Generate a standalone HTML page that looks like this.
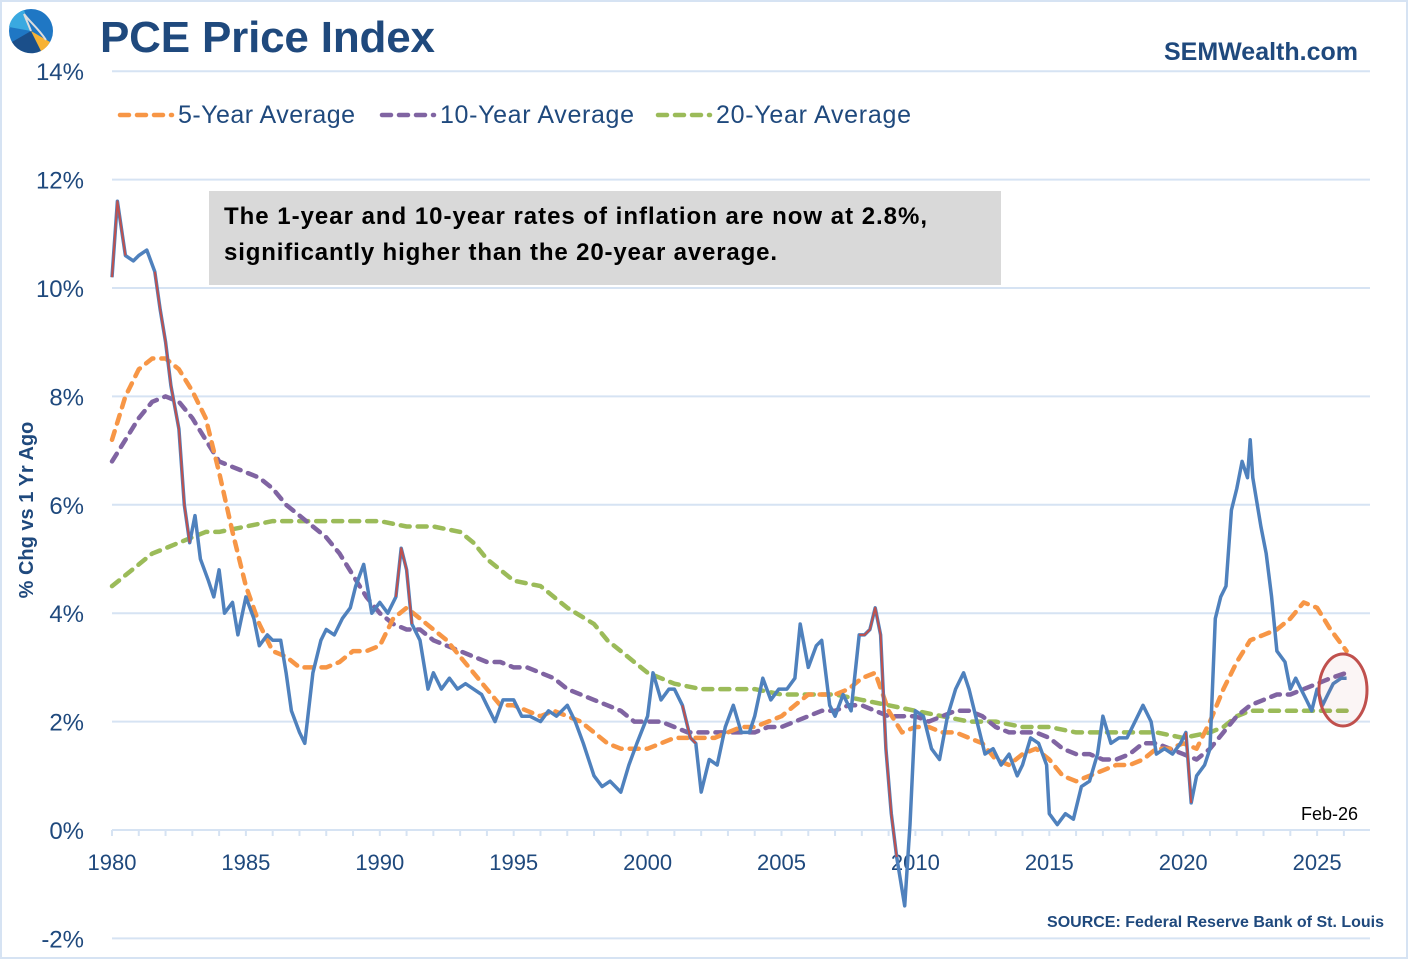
<!DOCTYPE html>
<html><head><meta charset="utf-8"><style>
body{margin:0;background:#fff;width:1408px;height:959px;overflow:hidden;font-family:"Liberation Sans",sans-serif}
</style></head><body>
<svg id="chart" width="1408" height="959" xmlns="http://www.w3.org/2000/svg" font-family="Liberation Sans, sans-serif">
<rect x="1" y="1" width="1406" height="957" fill="#fff" stroke="#d6e3f3" stroke-width="2"/>
<g>
<circle cx="31" cy="31" r="22" fill="#1f77c4"/>
<path d="M31 31 L9 27 A22 22 0 0 1 24 10 Z" fill="#3aa9e0"/>
<path d="M31 31 L41 51 A22 22 0 0 1 12 42 Z" fill="#1b4f8a"/>
<path d="M31 31 L50 42 A22 22 0 0 1 41 51 Z" fill="#f7b233"/>
<path d="M24 14 L31 31 M24 14 C30 22 38 28 46 40" stroke="#ddd" stroke-width="2" fill="none"/>
</g>
<text x="100" y="52" font-size="44" font-weight="bold" fill="#1f497d" textLength="335">PCE Price Index</text>
<text x="1358" y="60" text-anchor="end" font-size="25" font-weight="bold" fill="#1f497d">SEMWealth.com</text>
<g id="grid"></g>
<g id="yticks"></g>
<g id="xticks"></g>
<text transform="translate(33,510) rotate(-90)" text-anchor="middle" font-size="20" font-weight="bold" fill="#1f497d">% Chg vs 1 Yr Ago</text>
<g>
<g><line x1="120" y1="115" x2="172" y2="115" stroke="#f79646" stroke-width="4.5" stroke-dasharray="9,8" stroke-linecap="round"/><text x="178" y="123" font-size="25" fill="#1f497d" textLength="177">5-Year Average</text></g>
<g><line x1="382" y1="115" x2="434" y2="115" stroke="#8064a2" stroke-width="4.5" stroke-dasharray="9,8" stroke-linecap="round"/><text x="440" y="123" font-size="25" fill="#1f497d" textLength="194">10-Year Average</text></g>
<g><line x1="658" y1="115" x2="710" y2="115" stroke="#9bbb59" stroke-width="4.5" stroke-dasharray="9,8" stroke-linecap="round"/><text x="716" y="123" font-size="25" fill="#1f497d" textLength="195">20-Year Average</text></g>
</g>
<g>
<rect x="209" y="191" width="792" height="94" fill="#d9d9d9"/>
<text x="224" y="224" font-size="24" font-weight="bold" fill="#000" textLength="703">The 1-year and 10-year rates of inflation are now at 2.8%,</text>
<text x="224" y="260" font-size="24" font-weight="bold" fill="#000" textLength="553">significantly higher than the 20-year average.</text>
</g>
<g id="series"></g>
<ellipse cx="1343" cy="690" rx="24" ry="36" fill="#c0504d" fill-opacity="0.06" stroke="#c0504d" stroke-width="3"/>
<text x="1358" y="820" text-anchor="end" font-size="18" fill="#000">Feb-26</text>
<text x="1384" y="927" text-anchor="end" font-size="16" font-weight="bold" fill="#1f497d">SOURCE:  Federal Reserve Bank of St. Louis</text>
</svg>
<script>
const yTicks=[-2,0,2,4,6,8,10,12,14];
const xTicks=[1980,1985,1990,1995,2000,2005,2010,2015,2020,2025];
const oneYrX=[1980.0,1980.2,1980.5,1980.8,1981.0,1981.3,1981.6,1981.8,1982.0,1982.2,1982.5,1982.7,1982.9,1983.1,1983.3,1983.6,1983.8,1984.0,1984.2,1984.5,1984.7,1985.0,1985.3,1985.5,1985.8,1986.0,1986.3,1986.5,1986.7,1987.0,1987.2,1987.5,1987.8,1988.0,1988.3,1988.6,1988.9,1989.1,1989.4,1989.7,1990.0,1990.3,1990.6,1990.8,1991.0,1991.2,1991.5,1991.8,1992.0,1992.3,1992.6,1992.9,1993.2,1993.5,1993.8,1994.0,1994.3,1994.6,1995.0,1995.3,1995.6,1996.0,1996.3,1996.6,1997.0,1997.3,1997.6,1998.0,1998.3,1998.6,1999.0,1999.3,1999.6,2000.0,2000.2,2000.5,2000.8,2001.0,2001.3,2001.6,2001.8,2002.0,2002.3,2002.6,2002.9,2003.2,2003.5,2003.8,2004.0,2004.3,2004.6,2004.9,2005.2,2005.5,2005.7,2006.0,2006.3,2006.5,2006.8,2007.0,2007.3,2007.6,2007.9,2008.1,2008.3,2008.5,2008.7,2008.9,2009.1,2009.3,2009.6,2009.8,2010.0,2010.3,2010.6,2010.9,2011.2,2011.5,2011.8,2012.0,2012.3,2012.6,2012.9,2013.2,2013.5,2013.8,2014.0,2014.3,2014.6,2014.9,2015.0,2015.3,2015.6,2015.9,2016.2,2016.5,2016.8,2017.0,2017.3,2017.6,2017.9,2018.2,2018.5,2018.8,2019.0,2019.3,2019.6,2019.9,2020.1,2020.3,2020.5,2020.8,2021.0,2021.2,2021.4,2021.6,2021.8,2022.0,2022.2,2022.4,2022.5,2022.6,2022.9,2023.1,2023.3,2023.5,2023.8,2024.0,2024.2,2024.4,2024.6,2024.8,2025.0,2025.2,2025.4,2025.6,2025.9,2026.1];
const oneYrV=[10.2,11.6,10.6,10.5,10.6,10.7,10.3,9.6,9.0,8.2,7.4,6.0,5.3,5.8,5.0,4.6,4.3,4.8,4.0,4.2,3.6,4.3,3.9,3.4,3.6,3.5,3.5,2.9,2.2,1.8,1.6,2.9,3.5,3.7,3.6,3.9,4.1,4.5,4.9,4.0,4.2,4.0,4.3,5.2,4.8,3.8,3.5,2.6,2.9,2.6,2.8,2.6,2.7,2.6,2.5,2.3,2.0,2.4,2.4,2.1,2.1,2.0,2.2,2.1,2.3,2.0,1.6,1.0,0.8,0.9,0.7,1.2,1.6,2.1,2.9,2.4,2.6,2.6,2.3,1.7,1.6,0.7,1.3,1.2,1.9,2.3,1.8,1.8,2.1,2.8,2.4,2.6,2.6,2.8,3.8,3.0,3.4,3.5,2.3,2.1,2.5,2.2,3.6,3.6,3.7,4.1,3.6,1.5,0.3,-0.5,-1.4,0.1,2.2,2.1,1.5,1.3,2.1,2.6,2.9,2.6,2.0,1.4,1.5,1.2,1.4,1.0,1.2,1.7,1.6,1.2,0.3,0.1,0.3,0.2,0.8,0.9,1.4,2.1,1.6,1.7,1.7,2.0,2.3,2.0,1.4,1.5,1.4,1.6,1.8,0.5,1.0,1.2,1.5,3.9,4.3,4.5,5.9,6.3,6.8,6.5,7.2,6.5,5.6,5.1,4.3,3.3,3.1,2.6,2.8,2.6,2.4,2.2,2.6,2.3,2.5,2.7,2.8,2.8];
const recessionStart=[1980.0,1981.5,1990.6,2001.2,2007.9,2020.1];
const recessionEnd=[1980.5,1982.9,1991.2,2001.9,2009.5,2020.4];
const avg5X=[1980,1980.5,1981,1981.5,1982,1982.5,1983,1983.5,1984,1984.5,1985,1985.5,1986,1986.5,1987,1987.5,1988,1988.5,1989,1989.5,1990,1990.5,1991,1991.5,1992,1992.5,1993,1993.5,1994,1994.5,1995,1995.5,1996,1996.5,1997,1997.5,1998,1998.5,1999,1999.5,2000,2000.5,2001,2001.5,2002,2002.5,2003,2003.5,2004,2004.5,2005,2005.5,2006,2006.5,2007,2007.5,2008,2008.5,2009,2009.5,2010,2010.5,2011,2011.5,2012,2012.5,2013,2013.5,2014,2014.5,2015,2015.5,2016,2016.5,2017,2017.5,2018,2018.5,2019,2019.5,2020,2020.5,2021,2021.5,2022,2022.5,2023,2023.5,2024,2024.5,2025,2025.5,2026.1];
const avg5V=[7.2,8.0,8.5,8.7,8.7,8.5,8.1,7.6,6.6,5.5,4.5,3.8,3.3,3.2,3.0,3.0,3.0,3.1,3.3,3.3,3.4,3.9,4.1,3.9,3.7,3.5,3.2,2.9,2.6,2.3,2.3,2.2,2.1,2.2,2.1,2.0,1.8,1.6,1.5,1.5,1.5,1.6,1.7,1.7,1.7,1.7,1.8,1.9,1.9,2.0,2.1,2.3,2.5,2.5,2.5,2.6,2.8,2.9,2.2,1.8,1.9,1.9,1.8,1.8,1.7,1.6,1.3,1.2,1.4,1.5,1.3,1.0,0.9,1.0,1.1,1.2,1.2,1.3,1.5,1.5,1.6,1.5,2.0,2.6,3.1,3.5,3.6,3.7,3.9,4.2,4.1,3.7,3.3];
const avg10X=avg5X;
const avg10V=[6.8,7.2,7.6,7.9,8.0,7.9,7.6,7.2,6.8,6.7,6.6,6.5,6.3,6.0,5.8,5.6,5.4,5.1,4.7,4.3,4.0,3.8,3.7,3.7,3.5,3.4,3.3,3.2,3.1,3.1,3.0,3.0,2.9,2.8,2.6,2.5,2.4,2.3,2.2,2.0,2.0,2.0,1.9,1.8,1.8,1.8,1.8,1.8,1.8,1.9,1.9,2.0,2.1,2.2,2.2,2.3,2.3,2.2,2.1,2.1,2.1,2.0,2.1,2.2,2.2,2.1,1.9,1.8,1.8,1.8,1.7,1.5,1.4,1.4,1.3,1.3,1.4,1.6,1.6,1.5,1.4,1.3,1.5,1.8,2.1,2.3,2.4,2.5,2.5,2.6,2.7,2.8,2.9];
const avg20X=[1980,1980.5,1981,1981.5,1982,1982.5,1983,1983.5,1984,1985,1986,1987,1988,1989,1990,1991,1992,1993,1993.5,1994,1994.5,1995,1996,1996.5,1997,1998,1998.5,1999,1999.5,2000,2001,2002,2003,2004,2005,2006,2007,2008,2009,2010,2011,2012,2013,2014,2015,2016,2017,2018,2019,2020,2021,2021.5,2022,2022.5,2023,2024,2025,2026.1];
const avg20V=[4.5,4.7,4.9,5.1,5.2,5.3,5.4,5.5,5.5,5.6,5.7,5.7,5.7,5.7,5.7,5.6,5.6,5.5,5.3,5.0,4.8,4.6,4.5,4.3,4.1,3.8,3.5,3.3,3.1,2.9,2.7,2.6,2.6,2.6,2.5,2.5,2.5,2.4,2.3,2.2,2.1,2.0,2.0,1.9,1.9,1.8,1.8,1.8,1.8,1.7,1.8,1.9,2.1,2.2,2.2,2.2,2.2,2.2];

const NS="http://www.w3.org/2000/svg";
const X0=112,X1=1370,Y0=830;
const xs=y=>X0+(y-1980)*26.78;
const ys=v=>Y0-v*54.2;
function mk(t,a,p){const e=document.createElementNS(NS,t);for(const k in a)e.setAttribute(k,a[k]);p.appendChild(e);return e;}
const grid=document.getElementById('grid'),yt=document.getElementById('yticks'),xt=document.getElementById('xticks'),ser=document.getElementById('series');
yTicks.forEach(v=>{
 const l=mk('line',{x1:X0,x2:X1,y1:ys(v),y2:ys(v),stroke:'#d6e3f3','stroke-width':2},grid);
 
 
 const t=mk('text',{x:84,y:ys(v)+9,'text-anchor':'end','font-size':24,fill:'#1f497d'},yt);
 t.textContent=v+'%';
 
 
});
for(let yr=1980;yr<=2027;yr++){const x=xs(yr);if(x>X1)break;mk('line',{x1:x,x2:x,y1:Y0,y2:Y0+6,stroke:'#d6e3f3','stroke-width':2},xt);}
xTicks.forEach(yr=>{
 const t=mk('text',{x:xs(yr),y:870,'text-anchor':'middle','font-size':22,fill:'#1f497d'},xt);
 t.textContent=yr;
 
 
});
function path(X,V){return X.map((x,i)=>(i?'L':'M')+xs(x).toFixed(1)+' '+ys(V[i]).toFixed(1)).join(' ');}
function dashed(X,V,c,name){const p=mk('path',{d:path(X,V),fill:'none',stroke:c,'stroke-width':4.5,'stroke-dasharray':'9,8','stroke-linecap':'round','stroke-linejoin':'round'},ser);
 
 }
dashed(avg20X,avg20V,'#9bbb59','line-20yr-average');
dashed(avg10X,avg10V,'#8064a2','line-10yr-average');
dashed(avg5X,avg5V,'#f79646','line-5yr-average');
const b=mk('path',{d:path(oneYrX,oneYrV),fill:'none',stroke:'#4f81bd','stroke-width':3.5,'stroke-linejoin':'round'},ser);


recessionStart.forEach((s,k)=>{
 const e=recessionEnd[k];const X=[],V=[];
 oneYrX.forEach((x,i)=>{if(x>=s&&x<=e){X.push(x);V.push(oneYrV[i]);}});
 if(X.length<2)return;
 const r=mk('path',{d:path(X,V),fill:'none',stroke:'#c0504d','stroke-width':2,'stroke-linejoin':'round'},ser);
 
 
});
</script>
</body></html>
